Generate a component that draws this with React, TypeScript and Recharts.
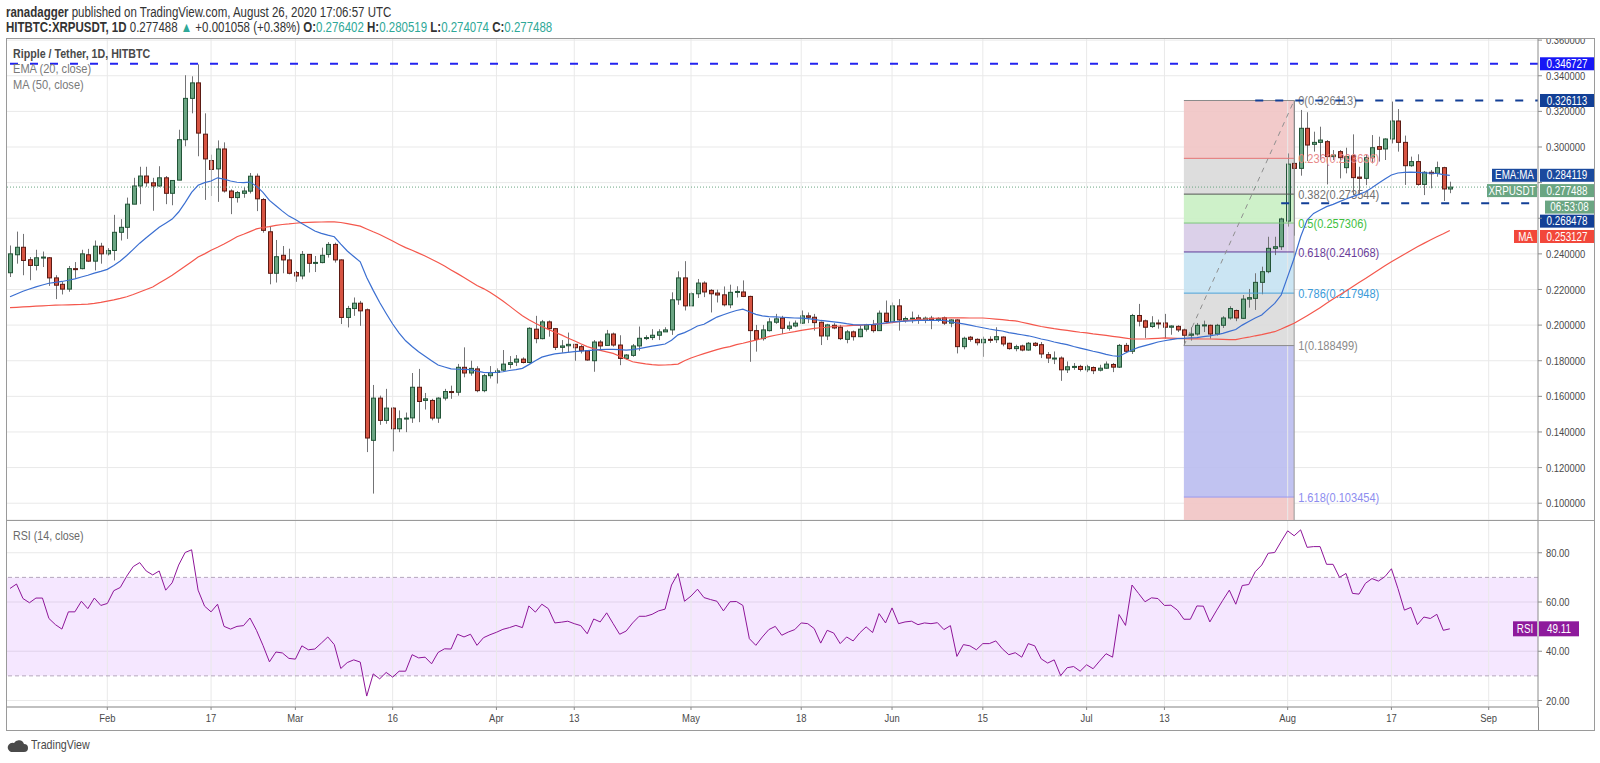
import React from 'react';
import {
  ComposedChart,
  Bar,
  Line,
  XAxis,
  YAxis,
  CartesianGrid,
  ReferenceLine,
  ReferenceArea,
} from 'recharts';

// ========================================
// HITBTC:XRPUSDT 1D — candles + EMA20 / MA50 + Fib + RSI(14)
// ========================================
// Daily candles, 2020-01-17 .. 2020-08-26 (index 0 = Jan 17).

const FONT = "'Liberation Sans', Arial, sans-serif";
const SX = 0.82; // TradingView's text is narrower than Liberation Sans

// ---------- data (one row per month) ----------
const opens = [
  0.2294, 0.2395, 0.2437, 0.2367, 0.2335, 0.2378, 0.2378, 0.2265, 0.2229, 0.2202, 0.2317, 0.2317, 0.2395, 0.2359, 0.2443,
  0.2400, 0.2419, 0.2521, 0.2549, 0.2679, 0.2781, 0.2837, 0.2799, 0.2781, 0.2827, 0.2740, 0.2814, 0.3041, 0.3273, 0.3360, 0.3072, 0.2924, 0.2877, 0.2989, 0.2753, 0.2716, 0.2740, 0.2752, 0.2836, 0.2705, 0.2524, 0.2291, 0.2392, 0.2366,
  0.2295, 0.2276, 0.2397, 0.2349, 0.2351, 0.2397, 0.2453, 0.2366, 0.2043, 0.2093, 0.2123, 0.2086, 0.1353, 0.1590, 0.1465, 0.1534, 0.1418, 0.1474, 0.1479, 0.1651, 0.1577, 0.1577, 0.1478, 0.1590, 0.1627, 0.1623, 0.1763, 0.1731, 0.1754, 0.1632, 0.1716,
  0.1734, 0.1747, 0.1779, 0.1792, 0.1809, 0.1790, 0.1977, 0.1924, 0.2018, 0.1980, 0.1875, 0.1884, 0.1892, 0.1879, 0.1856, 0.1800, 0.1905, 0.1886, 0.1950, 0.1888, 0.1813, 0.1830, 0.1883, 0.1926, 0.1930, 0.1943, 0.1962, 0.1973, 0.2142, 0.2265,
  0.2108, 0.2176, 0.2236, 0.2195, 0.2180, 0.2170, 0.2114, 0.2184, 0.2186, 0.2161, 0.1969, 0.1924, 0.1969, 0.2016, 0.2039, 0.1982, 0.1995, 0.2011, 0.2052, 0.2044, 0.2016, 0.1939, 0.1999, 0.1988, 0.1920, 0.1962, 0.1935, 0.1977, 0.2001, 0.1969, 0.2067,
  0.2020, 0.2108, 0.2026, 0.2037, 0.2041, 0.2026, 0.2039, 0.2029, 0.2041, 0.2011, 0.2029, 0.1879, 0.1932, 0.1920, 0.1901, 0.1920, 0.1918, 0.1933, 0.1898, 0.1868, 0.1883, 0.1860, 0.1898, 0.1890, 0.1834, 0.1813, 0.1815, 0.1749, 0.1766, 0.1768,
  0.1749, 0.1762, 0.1747, 0.1758, 0.1779, 0.1764, 0.1886, 0.1853, 0.2054, 0.2024, 0.1992, 0.2012, 0.2012, 0.1988, 0.1993, 0.1973, 0.1943, 0.1950, 0.1999, 0.1999, 0.1950, 0.1999, 0.2040, 0.2082, 0.2038, 0.2146, 0.2150, 0.2240, 0.2300, 0.2431, 0.2440,
  0.2584, 0.2908, 0.2880, 0.3105, 0.3015, 0.3026, 0.3030, 0.2946, 0.2974, 0.2884, 0.2951, 0.2831, 0.2824, 0.2940, 0.3002, 0.2989, 0.3045, 0.3146, 0.3026, 0.2895, 0.2918, 0.2790, 0.2858, 0.2852, 0.2884, 0.276402,
];

const highs = [
  0.2447, 0.2525, 0.2512, 0.2382, 0.2423, 0.2413, 0.2382, 0.2280, 0.2242, 0.2332, 0.2354, 0.2423, 0.2428, 0.2475, 0.2462,
  0.2432, 0.2619, 0.2595, 0.2716, 0.2827, 0.2889, 0.2889, 0.2827, 0.2892, 0.2837, 0.2814, 0.3097, 0.3403, 0.3397, 0.3464, 0.3189, 0.2957, 0.3037, 0.3026, 0.2762, 0.2753, 0.2775, 0.2854, 0.2851, 0.2713, 0.2552, 0.2478, 0.2444, 0.2429,
  0.2304, 0.2416, 0.2399, 0.2388, 0.2435, 0.2466, 0.2463, 0.2369, 0.2108, 0.2155, 0.2136, 0.2093, 0.1664, 0.1604, 0.1642, 0.1539, 0.1521, 0.1509, 0.1731, 0.1754, 0.1619, 0.1586, 0.1595, 0.1642, 0.1660, 0.1782, 0.1875, 0.1800, 0.1769, 0.1726, 0.1770,
  0.1757, 0.1860, 0.1826, 0.1832, 0.1819, 0.1988, 0.2052, 0.2029, 0.2026, 0.1984, 0.1916, 0.1958, 0.1894, 0.1888, 0.1860, 0.1916, 0.1916, 0.1973, 0.1958, 0.1943, 0.1837, 0.1894, 0.1992, 0.1943, 0.1977, 0.1977, 0.1988, 0.2184, 0.2302, 0.2359,
  0.2184, 0.2259, 0.2246, 0.2202, 0.2199, 0.2217, 0.2227, 0.2218, 0.2251, 0.2165, 0.2001, 0.2001, 0.2039, 0.2063, 0.2052, 0.2020, 0.2026, 0.2082, 0.2071, 0.2063, 0.2020, 0.2007, 0.2011, 0.2001, 0.1973, 0.1969, 0.1999, 0.2007, 0.2029, 0.2082, 0.2138,
  0.2127, 0.2146, 0.2048, 0.2076, 0.2058, 0.2048, 0.2052, 0.2044, 0.2048, 0.2033, 0.2033, 0.1935, 0.1939, 0.1926, 0.1935, 0.1937, 0.1988, 0.1937, 0.1901, 0.1890, 0.1890, 0.1905, 0.1905, 0.1905, 0.1849, 0.1852, 0.1824, 0.1796, 0.1787, 0.1777,
  0.1777, 0.1768, 0.1777, 0.1796, 0.1787, 0.1894, 0.1900, 0.2063, 0.2119, 0.2031, 0.2050, 0.2031, 0.2063, 0.1999, 0.1999, 0.1980, 0.1988, 0.2012, 0.2025, 0.2003, 0.2007, 0.2050, 0.2106, 0.2087, 0.2169, 0.2203, 0.2291, 0.2328, 0.2496, 0.2496, 0.2603,
  0.2964, 0.326113, 0.3208, 0.3195, 0.3086, 0.3114, 0.3039, 0.2983, 0.2983, 0.2996, 0.3071, 0.2889, 0.2955, 0.3067, 0.3058, 0.3049, 0.3255, 0.3213, 0.3064, 0.2946, 0.2959, 0.2865, 0.2871, 0.2918, 0.2889, 0.280519,
];

const lows = [
  0.2270, 0.2345, 0.2280, 0.2252, 0.2307, 0.2326, 0.2220, 0.2146, 0.2172, 0.2187, 0.2265, 0.2313, 0.2354, 0.2307, 0.2345,
  0.2391, 0.2363, 0.2475, 0.2484, 0.2679, 0.2679, 0.2777, 0.2642, 0.2777, 0.2679, 0.2673, 0.2814, 0.3004, 0.3189, 0.2948, 0.2703, 0.2725, 0.2692, 0.2744, 0.2623, 0.2688, 0.2715, 0.2739, 0.2640, 0.2519, 0.2229, 0.2239, 0.2291, 0.2285,
  0.2243, 0.2257, 0.2295, 0.2298, 0.2347, 0.2379, 0.2351, 0.2006, 0.1987, 0.2052, 0.1996, 0.1287, 0.1054, 0.1440, 0.1446, 0.1291, 0.1399, 0.1399, 0.1451, 0.1455, 0.1526, 0.1465, 0.1451, 0.1577, 0.1586, 0.1604, 0.1707, 0.1716, 0.1623, 0.1623, 0.1700,
  0.1672, 0.1743, 0.1757, 0.1770, 0.1785, 0.1785, 0.1898, 0.1920, 0.1935, 0.1860, 0.1845, 0.1847, 0.1800, 0.1841, 0.1800, 0.1738, 0.1860, 0.1883, 0.1879, 0.1775, 0.1807, 0.1822, 0.1856, 0.1916, 0.1916, 0.1916, 0.1962, 0.1945, 0.2114, 0.2082,
  0.2108, 0.2152, 0.2157, 0.2071, 0.2127, 0.2105, 0.2095, 0.2155, 0.2157, 0.1794, 0.1851, 0.1913, 0.1964, 0.2007, 0.1950, 0.1969, 0.1988, 0.2007, 0.2011, 0.1969, 0.1888, 0.1916, 0.1977, 0.1916, 0.1898, 0.1913, 0.1932, 0.1964, 0.1958, 0.1969, 0.2011,
  0.2011, 0.1969, 0.2014, 0.2011, 0.2007, 0.2011, 0.1977, 0.2018, 0.2001, 0.1988, 0.1841, 0.1864, 0.1907, 0.1886, 0.1822, 0.1900, 0.1900, 0.1881, 0.1862, 0.1853, 0.1853, 0.1856, 0.1879, 0.1815, 0.1787, 0.1781, 0.1687, 0.1731, 0.1749, 0.1740,
  0.1736, 0.1725, 0.1740, 0.1755, 0.1736, 0.1759, 0.1843, 0.1838, 0.1993, 0.1928, 0.1984, 0.1980, 0.1924, 0.1946, 0.1961, 0.188499, 0.1913, 0.1941, 0.1961, 0.1924, 0.1941, 0.1984, 0.2031, 0.2022, 0.2034, 0.2098, 0.2085, 0.2173, 0.2291, 0.2393, 0.2422,
  0.2553, 0.2502, 0.2839, 0.2921, 0.2974, 0.2927, 0.2790, 0.2927, 0.2824, 0.2852, 0.2730, 0.2730, 0.2786, 0.2908, 0.2918, 0.2927, 0.3020, 0.2974, 0.2787, 0.2889, 0.2783, 0.2730, 0.2768, 0.2833, 0.2697, 0.274074,
];

const closes = [
  0.2400, 0.2437, 0.2363, 0.2335, 0.2378, 0.2382, 0.2265, 0.2224, 0.2202, 0.2317, 0.2313, 0.2400, 0.2359, 0.2443, 0.2400,
  0.2419, 0.2521, 0.2549, 0.2679, 0.2781, 0.2837, 0.2799, 0.2781, 0.2827, 0.2740, 0.2812, 0.3041, 0.3273, 0.3360, 0.3078, 0.2933, 0.2874, 0.2989, 0.2753, 0.2716, 0.2744, 0.2753, 0.2836, 0.2709, 0.2532, 0.2291, 0.2384, 0.2366, 0.2291,
  0.2276, 0.2397, 0.2347, 0.2352, 0.2392, 0.2453, 0.2366, 0.2043, 0.2093, 0.2123, 0.2080, 0.1366, 0.1590, 0.1465, 0.1534, 0.1418, 0.1474, 0.1478, 0.1651, 0.1571, 0.1586, 0.1478, 0.1590, 0.1627, 0.1623, 0.1763, 0.1731, 0.1757, 0.1632, 0.1716, 0.1734,
  0.1743, 0.1781, 0.1789, 0.1809, 0.1790, 0.1982, 0.1924, 0.2018, 0.1980, 0.1875, 0.1883, 0.1892, 0.1873, 0.1856, 0.1804, 0.1905, 0.1883, 0.1950, 0.1888, 0.1813, 0.1832, 0.1883, 0.1926, 0.1930, 0.1943, 0.1962, 0.1973, 0.2142, 0.2265, 0.2108,
  0.2176, 0.2236, 0.2186, 0.2176, 0.2169, 0.2114, 0.2184, 0.2189, 0.2161, 0.1969, 0.1920, 0.1973, 0.2018, 0.2035, 0.1982, 0.1995, 0.2011, 0.2052, 0.2044, 0.2014, 0.1939, 0.2001, 0.1984, 0.1924, 0.1962, 0.1935, 0.1977, 0.2001, 0.1969, 0.2067, 0.2020,
  0.2108, 0.2029, 0.2037, 0.2039, 0.2026, 0.2039, 0.2029, 0.2037, 0.2011, 0.2029, 0.1879, 0.1926, 0.1920, 0.1901, 0.1920, 0.1918, 0.1935, 0.1894, 0.1868, 0.1879, 0.1860, 0.1898, 0.1886, 0.1838, 0.1815, 0.1815, 0.1749, 0.1766, 0.1768, 0.1751,
  0.1766, 0.1744, 0.1758, 0.1781, 0.1764, 0.1886, 0.1853, 0.2054, 0.2022, 0.1988, 0.2012, 0.2010, 0.1988, 0.1995, 0.1973, 0.1943, 0.1950, 0.1999, 0.2001, 0.1950, 0.1999, 0.2040, 0.2093, 0.2040, 0.2146, 0.2154, 0.2240, 0.2300, 0.2431, 0.2440, 0.2596,
  0.2904, 0.2880, 0.3105, 0.3011, 0.3026, 0.3039, 0.2946, 0.2955, 0.2940, 0.2946, 0.2828, 0.2824, 0.2940, 0.2996, 0.2987, 0.3045, 0.3146, 0.3026, 0.2895, 0.2918, 0.2790, 0.2858, 0.2850, 0.2884, 0.27643, 0.277488,
];

// EMA (20, close)
const ema20 = [
  0.2159, 0.2175, 0.2190, 0.2203, 0.2215, 0.2225, 0.2235, 0.2240, 0.2245, 0.2252, 0.2260, 0.2270, 0.2280, 0.2292, 0.2302,
  0.2313, 0.2335, 0.2360, 0.2391, 0.2425, 0.2460, 0.2490, 0.2520, 0.2549, 0.2572, 0.2595, 0.2635, 0.2688, 0.2745, 0.2785, 0.2800, 0.2809, 0.2827, 0.2820, 0.2809, 0.2802, 0.2800, 0.2803, 0.2780, 0.2745, 0.2700, 0.2670, 0.2640, 0.2612,
  0.2593, 0.2570, 0.2550, 0.2528, 0.2515, 0.2505, 0.2496, 0.2455, 0.2416, 0.2385, 0.2355, 0.2267, 0.2195, 0.2127, 0.2065, 0.2006, 0.1955, 0.1912, 0.1880, 0.1850, 0.1825, 0.1800, 0.1776, 0.1765, 0.1754, 0.1752, 0.1751, 0.1750, 0.1742, 0.1735, 0.1733,
  0.1734, 0.1738, 0.1745, 0.1750, 0.1757, 0.1778, 0.1800, 0.1820, 0.1830, 0.1838, 0.1843, 0.1847, 0.1851, 0.1854, 0.1857, 0.1860, 0.1862, 0.1864, 0.1864, 0.1862, 0.1860, 0.1862, 0.1868, 0.1875, 0.1882, 0.1888, 0.1894, 0.1915, 0.1945, 0.1958,
  0.1975, 0.1995, 0.2005, 0.2025, 0.2045, 0.2058, 0.2071, 0.2082, 0.2090, 0.2075, 0.2060, 0.2052, 0.2048, 0.2046, 0.2044, 0.2042, 0.2040, 0.2039, 0.2036, 0.2032, 0.2026, 0.2022, 0.2018, 0.2014, 0.2008, 0.2003, 0.2001, 0.2002, 0.2004, 0.2007, 0.2012,
  0.2018, 0.2020, 0.2022, 0.2024, 0.2026, 0.2026, 0.2026, 0.2026, 0.2026, 0.2020, 0.2012, 0.2007, 0.2000, 0.1992, 0.1985, 0.1978, 0.1972, 0.1967, 0.1958, 0.1952, 0.1946, 0.1940, 0.1932, 0.1922, 0.1915, 0.1905, 0.1897, 0.1890, 0.1880, 0.1871,
  0.1862, 0.1853, 0.1845, 0.1836, 0.1828, 0.1824, 0.1843, 0.1860, 0.1875, 0.1885, 0.1895, 0.1905, 0.1912, 0.1918, 0.1924, 0.1926, 0.1928, 0.1930, 0.1935, 0.1940, 0.1946, 0.1954, 0.1965, 0.1975, 0.2000, 0.2020, 0.2040, 0.2057, 0.2090, 0.2122, 0.2169,
  0.2272, 0.2375, 0.2496, 0.2590, 0.2627, 0.2646, 0.2665, 0.2678, 0.2693, 0.2708, 0.2721, 0.2734, 0.2749, 0.2771, 0.2796, 0.2820, 0.2843, 0.2854, 0.2858, 0.2859, 0.2857, 0.2855, 0.2853, 0.2852, 0.2845, 0.284119,
];

// MA (50, close)
const ma50 = [
  0.2098, 0.2100, 0.2102, 0.2104, 0.2106, 0.2108, 0.2110, 0.2112, 0.2113, 0.2114, 0.2115, 0.2116, 0.2118, 0.2122, 0.2128,
  0.2135, 0.2142, 0.2150, 0.2159, 0.2172, 0.2186, 0.2200, 0.2214, 0.2236, 0.2258, 0.2280, 0.2305, 0.2330, 0.2356, 0.2382, 0.2400, 0.2420, 0.2437, 0.2455, 0.2475, 0.2496, 0.2510, 0.2525, 0.2540, 0.2548, 0.2553, 0.2560, 0.2565, 0.2568,
  0.2572, 0.2575, 0.2577, 0.2578, 0.2579, 0.2580, 0.2580, 0.2576, 0.2570, 0.2563, 0.2556, 0.2540, 0.2524, 0.2509, 0.2490, 0.2472, 0.2453, 0.2435, 0.2420, 0.2404, 0.2388, 0.2370, 0.2351, 0.2332, 0.2310, 0.2289, 0.2267, 0.2245, 0.2222, 0.2205, 0.2185,
  0.2161, 0.2135, 0.2108, 0.2080, 0.2052, 0.2030, 0.2010, 0.1992, 0.1976, 0.1960, 0.1945, 0.1928, 0.1912, 0.1895, 0.1879, 0.1868, 0.1858, 0.1850, 0.1841, 0.1825, 0.1810, 0.1794, 0.1788, 0.1782, 0.1778, 0.1775, 0.1776, 0.1778, 0.1781, 0.1800,
  0.1815, 0.1828, 0.1840, 0.1851, 0.1862, 0.1872, 0.1879, 0.1890, 0.1898, 0.1907, 0.1916, 0.1925, 0.1935, 0.1943, 0.1950, 0.1957, 0.1963, 0.1970, 0.1976, 0.1982, 0.1985, 0.1988, 0.1992, 0.1995, 0.1996, 0.1998, 0.1999, 0.2002, 0.2004, 0.2007, 0.2010,
  0.2014, 0.2019, 0.2024, 0.2029, 0.2032, 0.2034, 0.2037, 0.2039, 0.2040, 0.2041, 0.2041, 0.2041, 0.2040, 0.2040, 0.2040, 0.2037, 0.2034, 0.2031, 0.2027, 0.2024, 0.2016, 0.2008, 0.2000, 0.1992, 0.1986, 0.1980, 0.1975, 0.1970, 0.1965, 0.1960,
  0.1956, 0.1951, 0.1947, 0.1942, 0.1937, 0.1932, 0.1927, 0.1922, 0.1922, 0.1922, 0.1924, 0.1926, 0.1928, 0.1927, 0.1926, 0.1924, 0.1923, 0.1923, 0.1922, 0.1922, 0.1921, 0.1920, 0.1919, 0.1918, 0.1926, 0.1932, 0.1940, 0.1947, 0.1955, 0.1963, 0.1978,
  0.1994, 0.2010, 0.2032, 0.2053, 0.2075, 0.2098, 0.2122, 0.2146, 0.2169, 0.2192, 0.2216, 0.2239, 0.2262, 0.2286, 0.2309, 0.2333, 0.2356, 0.2377, 0.2398, 0.2419, 0.2440, 0.2459, 0.2478, 0.2496, 0.2513, 0.253127,
];

// RSI (14, close)
const rsi14 = [
  65.5, 67.3, 61.4, 59.7, 61.6, 61.6, 53.3, 50.8, 49.0, 56.0, 56.0, 60.3, 57.3, 61.6, 58.6,
  59.4, 64.6, 65.9, 70.5, 74.4, 76.0, 72.6, 71.0, 72.6, 64.8, 67.8, 75.0, 80.1, 81.2, 64.8, 58.3, 56.0, 59.1, 50.1, 49.0, 50.1, 50.4, 53.5, 48.5, 42.4, 35.7, 39.7, 39.3, 37.1,
  36.8, 42.2, 40.6, 40.9, 43.3, 45.8, 42.7, 33.0, 35.4, 36.5, 35.6, 21.8, 30.8, 28.8, 31.4, 29.5, 31.9, 31.9, 38.6, 37.3, 37.6, 34.9, 39.5, 41.0, 40.9, 46.9, 45.8, 46.9, 42.4, 45.5, 46.7,
  47.7, 48.9, 49.6, 50.5, 49.6, 58.4, 55.9, 59.1, 57.3, 51.5, 51.8, 52.2, 51.2, 50.4, 47.1, 53.1, 51.9, 55.6, 51.2, 46.9, 48.2, 51.5, 54.2, 54.2, 55.0, 56.4, 57.1, 66.9, 71.6, 60.3,
  62.4, 65.2, 61.8, 61.0, 60.3, 56.4, 60.1, 60.2, 58.6, 45.1, 42.4, 45.8, 48.8, 50.1, 46.5, 47.8, 48.8, 51.5, 51.2, 49.2, 43.3, 48.5, 47.4, 43.1, 45.8, 44.2, 47.4, 49.9, 47.6, 55.3, 51.5,
  57.6, 51.2, 51.9, 52.2, 50.8, 51.5, 51.2, 51.6, 48.8, 50.4, 37.9, 42.7, 42.2, 40.6, 43.1, 43.1, 44.2, 41.0, 38.6, 39.4, 37.6, 43.1, 42.2, 36.9, 35.2, 36.5, 30.1, 33.3, 33.8, 31.9,
  34.5, 32.9, 36.0, 39.0, 37.6, 54.9, 50.5, 66.9, 63.5, 60.1, 61.7, 61.4, 58.6, 58.7, 56.7, 53.0, 53.0, 58.4, 58.3, 51.9, 56.4, 60.7, 64.8, 59.1, 66.7, 67.1, 72.3, 75.0, 79.8, 80.1, 84.6,
  88.9, 86.9, 89.3, 82.2, 82.5, 82.5, 75.3, 75.3, 70.0, 71.6, 63.5, 63.2, 67.6, 69.5, 68.5, 70.3, 73.5, 65.5, 56.7, 57.8, 50.8, 53.9, 53.3, 55.0, 48.5, 49.11,
];

// time axis (day index from Jan 17)
const tickDays = [15, 31, 44, 59, 75, 87, 105, 122, 136, 150, 166, 178, 197, 213, 228];
const tickLabels = ['Feb', '17', 'Mar', '16', 'Apr', '13', 'May', '18', 'Jun', '15', 'Jul', '13', 'Aug', '17', 'Sep'];
const X_DOMAIN = [-0.62, 235.6];

const priceTicks = [0.1, 0.12, 0.14, 0.16, 0.18, 0.2, 0.22, 0.24, 0.26, 0.28, 0.3, 0.32, 0.34, 0.36];
const hiddenPriceTicks = [0.26, 0.28]; // covered by the price tags
const PRICE_MIN = 0.09057;
const PRICE_MAX = 0.3612;
const rsiTicks = [20, 40, 60, 80];

// Fibonacci retracement, Jul 16 low -> Aug 2 high
const FIB_FROM = 181;
const FIB_TO = 198;
const fibNames = ['0', '0.236', '0.382', '0.5', '0.618', '0.786', '1', '1.618'];
const fibPrices = [0.326113, 0.293636, 0.273544, 0.257306, 0.241068, 0.217948, 0.188499, 0.103454];
const fibFills = ['', '#f1c4c4', '#d9d9d9', '#c9efc3', '#d7cbe7', '#c5e2f2', '#dadada', '#babcef'];
const fibLines = ['#8a8a8a', '#e57373', '#555555', '#7cc77c', '#5e3a96', '#4aa0d8', '#8a8a8a', '#9a9af0'];
const fibText = ['#7a7a7a', '#e88a8a', '#707070', '#3fbf3f', '#6a3d9a', '#3a9ad9', '#8a8a8a', '#8d8def'];

const data = closes.map((c, i) => ({
  i,
  open: opens[i],
  high: highs[i],
  low: lows[i],
  close: c,
  ema: ema20[i],
  ma: ma50[i],
  rsi: rsi14[i],
}));

// narrow svg text
function NText({ x, y, size = 11.5, fill = '#4a4a4a', anchor = 'start', dy = '0.35em', children }: any) {
  return (
    <text
      transform={`translate(${x},${y}) scale(${SX},1)`}
      textAnchor={anchor}
      dy={dy}
      fontSize={size}
      fill={fill}
      fontFamily={FONT}
    >
      {children}
    </text>
  );
}

function AxisTick(props: any) {
  const { x, y, payload, textAnchor, fmt, dy } = props;
  const label = fmt(payload.value);
  if (!label) return null;
  return (
    <NText x={x} y={y} anchor={textAnchor} dy={dy}>
      {label}
    </NText>
  );
}

function Candle(props: any) {
  const { x, y, width, height, payload } = props;
  if (x == null || !payload) return null;
  const { open, close, high, low } = payload;
  const up = close >= open;
  const k = height / (high - low);
  const yo = y + (high - open) * k;
  const yc = y + (high - close) * k;
  const top = Math.min(yo, yc);
  const h = Math.max(1, Math.abs(yo - yc));
  const cx = Math.round(x + width / 2) + 0.5;
  return (
    <g>
      <line x1={cx} x2={cx} y1={y} y2={y + height} stroke="#737375" strokeWidth={1} />
      <rect
        x={cx - 2}
        y={top}
        width={4}
        height={h}
        fill={up ? '#6ba583' : '#d75442'}
        stroke={up ? '#225437' : '#5b1a13'}
        strokeWidth={1}
      />
    </g>
  );
}

function FibLabel(props: any) {
  const { viewBox, text, color } = props;
  if (!viewBox) return null;
  return (
    <NText x={viewBox.x + viewBox.width + 4} y={viewBox.y + viewBox.height / 2} size={13.5} fill={color}>
      {text}
    </NText>
  );
}

function PriceTag(props: any) {
  const { viewBox, text, tag, tagWidth = 0, bg, dy = 0, extra } = props;
  if (!viewBox) return null;
  const right = viewBox.x + viewBox.width;
  const cy = viewBox.y + dy;
  return (
    <g>
      {tag && <rect x={right - 1 - tagWidth} y={cy - 6.5} width={tagWidth} height={13} fill={bg} />}
      {tag && (
        <NText x={right - 1 - tagWidth / 2} y={cy} anchor="middle" fill="#fff" size={12}>
          {tag}
        </NText>
      )}
      <rect x={right + 2} y={cy - 6.5} width={54} height={13} fill={bg} />
      <NText x={right + 29} y={cy} anchor="middle" fill="#fff" size={12}>
        {text}
      </NText>
      {extra && (
        <g>
          <rect x={right + 7} y={cy + 10} width={49} height={13} fill={bg} />
          <NText x={right + 31.5} y={cy + 16.5} anchor="middle" fill="#fff" size={12}>
            {extra}
          </NText>
        </g>
      )}
    </g>
  );
}

function RsiTag(props: any) {
  const { viewBox, value } = props;
  if (!viewBox) return null;
  const right = viewBox.x + viewBox.width;
  const cy = viewBox.y;
  return (
    <g>
      <rect x={right - 25} y={cy - 7.5} width={24} height={15} fill="#8e1a9c" />
      <NText x={right - 13} y={cy} anchor="middle" fill="#fff" size={12}>RSI</NText>
      <rect x={right + 1} y={cy - 7.5} width={40} height={15} fill="#8e1a9c" />
      <NText x={right + 21} y={cy} anchor="middle" fill="#fff" size={12}>{value}</NText>
    </g>
  );
}

// narrow html text
function T({ left, top, size = 14, color = '#333', weight = 400, children }: any) {
  return (
    <div
      style={{
        position: 'absolute',
        left,
        top,
        fontSize: size,
        lineHeight: '16px',
        color,
        fontWeight: weight,
        fontFamily: FONT,
        whiteSpace: 'nowrap',
        transform: `scaleX(${SX})`,
        transformOrigin: '0 0',
      }}
    >
      {children}
    </div>
  );
}

export default function App() {
  const teal = '#2fa898';
  const priceFmt = (v: number) => (hiddenPriceTicks.includes(v) ? '' : v.toFixed(6));
  return (
    <div style={{ position: 'relative', width: 1600, height: 763, background: '#fff', overflow: 'hidden', fontFamily: FONT }}>
      <style>{'body{margin:0}'}</style>

      {/* header */}
      <T left={6} top={4}>
        <b>ranadagger</b> published on TradingView.com, August 26, 2020 17:06:57 UTC
      </T>
      <T left={6} top={19}>
        <b>HITBTC:XRPUSDT, 1D</b> 0.277488 <span style={{ color: teal }}>▲</span> +0.001058 (+0.38%){' '}
        <b>O:</b><span style={{ color: teal }}>0.276402</span> <b>H:</b><span style={{ color: teal }}>0.280519</span>{' '}
        <b>L:</b><span style={{ color: teal }}>0.274074</span> <b>C:</b><span style={{ color: teal }}>0.277488</span>
      </T>

      {/* price pane */}
      <div style={{ position: 'absolute', left: 6, top: 38 }}>
        <ComposedChart width={1588} height={482} data={data} margin={{ top: 0, right: 0, bottom: 0, left: 0 }}>
          <CartesianGrid vertical={false} stroke="#e9e9e9" />
          <XAxis dataKey="i" type="number" domain={X_DOMAIN} allowDataOverflow hide />
          <YAxis
            orientation="right"
            width={56}
            domain={[PRICE_MIN, PRICE_MAX]}
            allowDataOverflow
            ticks={priceTicks}
            interval={0}
            tick={<AxisTick fmt={priceFmt} dy="0.35em" />}
            tickSize={4}
            tickMargin={4}
            axisLine={{ stroke: '#8c8c8c' }}
            tickLine={{ stroke: '#8c8c8c' }}
          />
          {tickDays.map((d) => (
            <ReferenceLine key={'g' + d} x={d} stroke="#e9e9e9" />
          ))}

          {/* fib zones */}
          {fibPrices.slice(1).map((p, k) => (
            <ReferenceArea
              key={'fz' + k}
              x1={FIB_FROM}
              x2={FIB_TO}
              y1={p}
              y2={fibPrices[k]}
              fill={fibFills[k + 1]}
              fillOpacity={0.9}
              stroke="none"
            />
          ))}
          <ReferenceArea x1={FIB_FROM} x2={FIB_TO} y1={PRICE_MIN} y2={fibPrices[7]} fill="#f1c4c4" fillOpacity={0.9} stroke="none" />
          {fibPrices.map((p, k) => (
            <ReferenceLine
              key={'fl' + k}
              segment={[{ x: FIB_FROM, y: p }, { x: FIB_TO, y: p }]}
              stroke={fibLines[k]}
              label={<FibLabel text={`${fibNames[k]}(${p.toFixed(6)})`} color={fibText[k]} />}
            />
          ))}
          <ReferenceLine segment={[{ x: FIB_TO, y: fibPrices[0] }, { x: FIB_TO, y: PRICE_MIN }]} stroke="#999" />
          <ReferenceLine
            segment={[{ x: FIB_FROM, y: fibPrices[6] }, { x: FIB_TO, y: fibPrices[0] }]}
            stroke="#8f8f8f"
            strokeDasharray="5 5"
          />

          {/* horizontal levels */}
          <ReferenceLine y={0.346727} stroke="#2323f0" strokeWidth={2} strokeDasharray="8 12" />
          <ReferenceLine segment={[{ x: 192, y: 0.326113 }, { x: X_DOMAIN[1], y: 0.326113 }]} stroke="#123f96" strokeWidth={2} strokeDasharray="8 12" />
          <ReferenceLine segment={[{ x: 196, y: 0.268478 }, { x: X_DOMAIN[1], y: 0.268478 }]} stroke="#123f96" strokeWidth={2} strokeDasharray="8 12" />
          <ReferenceLine y={0.277488} stroke="#6aa582" strokeDasharray="1 2" />

          <Line dataKey="ma" stroke="#f4574c" strokeWidth={1.2} dot={false} isAnimationActive={false} />
          <Line dataKey="ema" stroke="#3b6fd1" strokeWidth={1.2} dot={false} isAnimationActive={false} />
          <Bar dataKey={(d: any) => [d.low, d.high]} barSize={5} shape={<Candle />} isAnimationActive={false} />

          {/* right-hand price tags */}
          <ReferenceLine y={0.346727} stroke="none" label={<PriceTag text="0.346727" bg="#1717f5" />} />
          <ReferenceLine y={0.326113} stroke="none" label={<PriceTag text="0.326113" bg="#123f96" />} />
          <ReferenceLine y={0.268478} stroke="none" label={<PriceTag text="0.268478" bg="#123f96" dy={18} />} />
          <ReferenceLine y={0.253127} stroke="none" label={<PriceTag text="0.253127" tag="MA" tagWidth={23} bg="#f2473a" dy={6} />} />
          <ReferenceLine
            y={0.277488}
            stroke="none"
            label={<PriceTag text="0.277488" tag="XRPUSDT" tagWidth={50} bg="#6aa582" dy={3.5} extra="06:53:08" />}
          />
          <ReferenceLine y={0.284119} stroke="none" label={<PriceTag text="0.284119" tag="EMA:MA" tagWidth={45} bg="#1b4a9e" />} />
        </ComposedChart>
      </div>

      {/* RSI pane */}
      <div style={{ position: 'absolute', left: 6, top: 520 }}>
        <ComposedChart width={1588} height={210} data={data} margin={{ top: 0, right: 0, bottom: 0, left: 0 }}>
          <CartesianGrid vertical={false} stroke="#e9e9e9" />
          <XAxis
            dataKey="i"
            type="number"
            domain={X_DOMAIN}
            allowDataOverflow
            ticks={tickDays}
            interval={0}
            tick={<AxisTick fmt={(v: number) => tickLabels[tickDays.indexOf(v)]} dy="0.71em" />}
            height={23}
            tickSize={3}
            tickMargin={4}
            axisLine={{ stroke: '#8c8c8c' }}
            tickLine={{ stroke: '#8c8c8c' }}
          />
          <YAxis
            orientation="right"
            width={56}
            domain={[17.36, 93.3]}
            allowDataOverflow
            ticks={rsiTicks}
            interval={0}
            tick={<AxisTick fmt={(v: number) => v.toFixed(2)} dy="0.35em" />}
            tickSize={4}
            tickMargin={4}
            axisLine={{ stroke: '#8c8c8c' }}
            tickLine={{ stroke: '#8c8c8c' }}
          />
          {tickDays.map((d) => (
            <ReferenceLine key={'rg' + d} x={d} stroke="#e9e9e9" />
          ))}
          <ReferenceArea y1={30} y2={70} fill="#9915ff" fillOpacity={0.1} stroke="none" />
          <ReferenceLine y={70} stroke="#b4a6bd" strokeDasharray="4 3" />
          <ReferenceLine y={30} stroke="#b4a6bd" strokeDasharray="4 3" />
          <Line dataKey="rsi" stroke="#8e1599" strokeWidth={1} dot={false} isAnimationActive={false} />
          <ReferenceLine y={49.11} stroke="none" label={<RsiTag value="49.11" />} />
        </ComposedChart>
      </div>

      {/* legends */}
      <T left={13} top={46} size={13} color="#4a4a4a" weight={700}>Ripple / Tether, 1D, HITBTC</T>
      <T left={13} top={61} size={13.5} color="#7a7a7a">EMA (20, close)</T>
      <T left={13} top={77} size={13.5} color="#7a7a7a">MA (50, close)</T>
      <T left={13} top={528} size={13} color="#6a6a6a">RSI (14, close)</T>

      {/* frame */}
      <div style={{ position: 'absolute', left: 6, top: 38, width: 1589, height: 693, border: '1px solid #9a9a9a', boxSizing: 'border-box', pointerEvents: 'none' }} />
      <div style={{ position: 'absolute', left: 6, top: 520, width: 1589, height: 1, background: '#9a9a9a' }} />
      <div style={{ position: 'absolute', left: 1538, top: 707, width: 1, height: 23, background: '#8c8c8c' }} />

      {/* footer logo */}
      <svg style={{ position: 'absolute', left: 7, top: 738 }} width={22} height={15}>
        <path d="M4 14 H17 A4 4 0 0 0 17 6 A5.5 5.5 0 0 0 7 5 A4.5 4.5 0 0 0 4 14 Z" fill="#4a4a4a" />
      </svg>
      <T left={31} top={737} size={13} color="#4a4a4a">TradingView</T>
    </div>
  );
}
